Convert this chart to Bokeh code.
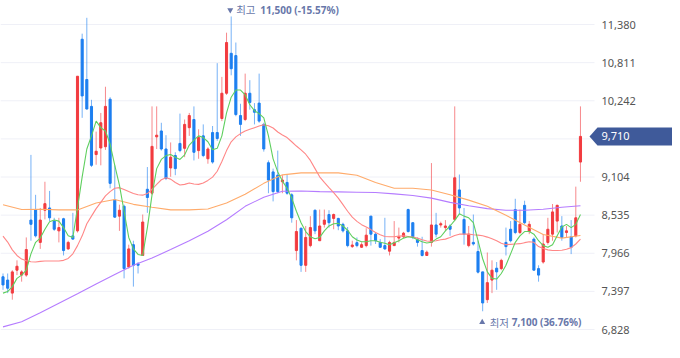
from bokeh.plotting import figure
from bokeh.models import Range1d, ColumnDataSource
from bokeh.core.properties import value
from bokeh.embed import file_html
from bokeh.resources import INLINE

# ---------------- data (daily candles) ----------------
OPEN = [7615, 7566, 7371, 7713, 7640, 7640, 8461, 8618, 8128, 8608,
        8642, 8446, 8300, 8481, 8031, 8226, 8300, 11160, 10559, 10158,
        9439, 9537, 9556, 10265, 8764, 8520, 8667, 7762, 8094, 7811,
        7933, 8921, 8862, 9703, 9791, 9522, 9239, 9424, 9605, 9532,
        9840, 9962, 9498, 9718, 9376, 9767, 9767, 9977, 10354, 10950,
        10916, 10021, 9962, 10354, 10109, 10207, 9889, 9317, 9180, 9131,
        9033, 9023, 8838, 8006, 8339, 7786, 8080, 8608, 8153, 8398,
        8544, 8486, 8486, 8398, 8300, 8065, 8124, 8055, 8080, 8520,
        8251, 8128, 8080, 7997, 8080, 8192, 8212, 8618, 8422, 8168,
        8006, 7933, 8128, 8388, 8388, 8349, 8373, 8471, 8911, 8471,
        8080, 8128, 7992, 7688, 7273, 7566, 7743, 7737, 8128, 8324,
        8618, 8275, 8681, 8290, 8177, 7737, 7835, 8128, 8251, 8446,
        8373, 8275, 8212, 8226, 9327]
HIGH = [7664, 7664, 7713, 7860, 7713, 8202, 9434, 8838, 8642, 9033,
        8896, 8495, 8495, 8495, 8153, 8569, 10608, 11243, 11480, 10256,
        9781, 10060, 10451, 10295, 9278, 8691, 8691, 8094, 8153, 7835,
        8544, 9253, 10158, 10158, 9913, 9728, 9620, 9473, 10050, 9962,
        10060, 10158, 9816, 9889, 9547, 9865, 10803, 10598, 11258, 11500,
        11111, 10197, 10647, 10549, 10207, 10647, 9913, 9351, 9229, 9498,
        9131, 9141, 8862, 8461, 8349, 8373, 8520, 8618, 8618, 8618,
        8608, 8559, 8495, 8422, 8358, 8153, 8202, 8128, 8339, 8520,
        8275, 8177, 8495, 8153, 8446, 8349, 8285, 8632, 8422, 8202,
        8212, 8006, 9312, 8569, 8437, 8461, 8398, 10158, 9141, 8642,
        8373, 8544, 8153, 7688, 7977, 7860, 7835, 7884, 8349, 8446,
        8779, 8618, 8750, 8446, 8202, 7786, 8251, 8495, 8701, 8691,
        8520, 8373, 8461, 8960, 10158]
LOW = [7420, 7371, 7273, 7640, 7542, 7615, 8153, 8202, 8031, 8471,
       8446, 8300, 8128, 7933, 8016, 8168, 8275, 9987, 10109, 9253,
       9287, 9278, 9508, 8935, 8495, 8300, 7591, 7737, 7468, 7664,
       7933, 8569, 8838, 9522, 9498, 9058, 9107, 9131, 9473, 9400,
       9718, 9351, 9376, 9400, 9302, 9302, 9644, 9938, 10329, 10622,
       10011, 9718, 9938, 10109, 9889, 9913, 9483, 8862, 8740, 8862,
       8862, 8838, 8422, 7860, 7688, 7688, 8055, 8251, 8153, 8349,
       8349, 8324, 8310, 8275, 8055, 8045, 8055, 8045, 8055, 8080,
       8104, 8045, 8016, 7933, 8080, 8128, 8192, 8275, 8177, 8065,
       7918, 7933, 8065, 8202, 8349, 8300, 8226, 8446, 8544, 8094,
       8055, 8080, 7664, 7100, 7224, 7371, 7420, 7713, 7933, 8128,
       8251, 8251, 8398, 8251, 7713, 7542, 7811, 8094, 8153, 8275,
       8153, 8202, 7953, 8202, 9033]
CLOSE = [7493, 7444, 7688, 7772, 7688, 8021, 8398, 8226, 8461, 8706,
         8495, 8324, 8349, 8006, 8128, 8177, 10608, 10314, 10119, 9278,
         9488, 9913, 10158, 9009, 8505, 8608, 7737, 8031, 7786, 7786,
         8432, 8798, 9561, 9728, 9522, 9082, 9400, 9229, 9498, 9889,
         10021, 9473, 9693, 9424, 9522, 9327, 9679, 10354, 11111, 10720,
         10036, 9889, 10354, 10217, 10070, 9938, 9522, 9058, 8886, 8886,
         9058, 8862, 8495, 8290, 7786, 8202, 8349, 8300, 8373, 8461,
         8422, 8544, 8373, 8300, 8080, 8089, 8080, 8094, 8236, 8251,
         8153, 8055, 8031, 8128, 8128, 8212, 8266, 8290, 8212, 8128,
         7933, 7982, 8388, 8251, 8407, 8373, 8324, 9092, 8642, 8251,
         8251, 8104, 7684, 7224, 7527, 7713, 7688, 7860, 8065, 8153,
         8275, 8398, 8422, 8398, 7713, 7640, 8104, 8324, 8583, 8681,
         8202, 8300, 8055, 8495, 9710]

# 5-day moving average (green), one value per candle
MA5 = [7371, 7395, 7468, 7591, 7640, 7713, 7957, 8129, 8192, 8324,
       8437, 8461, 8446, 8349, 8226, 8202, 8642, 9107, 9522, 9718,
       9938, 9840, 9791, 9596, 9278, 8984, 8593, 8202, 8031, 7948,
       7933, 8349, 8838, 9229, 9366, 9424, 9439, 9400, 9366, 9434,
       9581, 9654, 9718, 9693, 9630, 9512, 9532, 9718, 10060, 10295,
       10402, 10402, 10329, 10182, 10094, 10050, 9987, 9718, 9375, 9180,
       9043, 8935, 8789, 8593, 8422, 8290, 8212, 8182, 8202, 8300,
       8373, 8407, 8412, 8373, 8309, 8212, 8163, 8138, 8138, 8153,
       8153, 8129, 8114, 8094, 8124, 8153, 8192, 8212, 8202, 8168,
       8138, 8119, 8129, 8177, 8212, 8300, 8373, 8456, 8554, 8520,
       8495, 8422, 8153, 7884, 7688, 7591, 7581, 7664, 7786, 7957,
       8129, 8226, 8290, 8290, 8251, 8153, 8080, 8055, 8094, 8226,
       8358, 8397, 8349, 8397, 8544]
# 20-day moving average (pink), one value per candle
MA20 = [8221, 8133, 8016, 7933, 7879, 7855, 7840, 7835, 7845, 7850,
        7850, 7850, 7850, 7860, 7889, 7957, 8080, 8226, 8407, 8520,
        8632, 8725, 8823, 8886, 8935, 8945, 8916, 8886, 8857, 8838,
        8833, 8857, 8921, 8994, 9063, 9092, 9072, 9023, 8984, 8994,
        9014, 8999, 8994, 9014, 9053, 9102, 9190, 9336, 9498, 9630,
        9703, 9752, 9791, 9816, 9840, 9864, 9884, 9869, 9835, 9776,
        9732, 9693, 9630, 9566, 9508, 9444, 9351, 9229, 9107, 9023,
        8945, 8872, 8789, 8691, 8593, 8505, 8442, 8393, 8358, 8319,
        8275, 8241, 8217, 8212, 8212, 8221, 8226, 8217, 8207, 8192,
        8168, 8148, 8143, 8153, 8168, 8177, 8202, 8231, 8251, 8251,
        8251, 8241, 8236, 8226, 8207, 8182, 8153, 8114, 8094, 8099,
        8104, 8109, 8124, 8138, 8129, 8065, 8036, 8016, 8006, 8006,
        8011, 8026, 8050, 8104, 8177]
# 60-day (orange) and 120-day (purple) averages, read every 4th candle
MA_LONG_IDX = [0, 4, 8, 12, 16, 20, 24, 28, 32, 36, 40, 44, 48, 52, 56, 60,
               64, 68, 72, 76, 80, 84, 88, 92, 96, 100, 104, 108, 112, 116, 120, 124]
MA60 = [8691, 8618, 8622, 8613, 8613, 8715, 8769, 8696, 8652, 8613, 8613,
        8627, 8715, 8847, 9009, 9136, 9165, 9165, 9165, 9131, 9023, 8935,
        8935, 8911, 8838, 8759, 8666, 8534, 8388, 8246, 8192, 8231]
MA120 = [6867, 6945, 7077, 7219, 7361, 7508, 7649, 7786, 7894, 8021, 8153,
         8295, 8466, 8666, 8803, 8891, 8896, 8886, 8882, 8877, 8872, 8852,
         8828, 8789, 8725, 8676, 8632, 8608, 8608, 8622, 8652, 8676]

Y_TICKS = [6828, 7397, 7966, 8535, 9104, 9673, 10242, 10811, 11380]
Y_TICK_LABELS = ["6,828", "7,397", "7,966", "8,535", "9,104", "", "10,242", "10,811", "11,380"]
HIGH_TAG = ["최고", "11,500 (-15.57%)"]
LOW_TAG = ["최저", "7,100 (36.76%)"]
LAST_PRICE = 9710
LAST_LABEL = "9,710"

# ---------------- layout ----------------
W, H = 672, 350
DX = 4.657                      # pixels per candle
X0 = -2.5 / DX
X1 = X0 + W / DX
PXV = (11380 - 6828) / 305.0     # price per pixel
Y1 = 11380 + 24 * PXV
Y0 = Y1 - H * PXV


def xp(px):
    return X0 + px / DX


RED = "#f23b3f"
BLUE = "#1d7ff0"
ANN = "#6877aa"

p = figure(width=W, height=H, x_range=Range1d(X0, X1), y_range=Range1d(Y0, Y1),
           output_backend="svg", toolbar_location=None,
           x_axis_location=None, y_axis_location=None,
           min_border=0, outline_line_color=None, background_fill_color="white")
p.grid.visible = False

n = len(OPEN)
idx = list(range(n))
cols = [RED if c >= o else BLUE for o, c in zip(OPEN, CLOSE)]
src = ColumnDataSource(dict(
    x=idx, o=OPEN, h=HIGH, l=LOW, c=CLOSE, col=cols,
    top=[max(o, c) for o, c in zip(OPEN, CLOSE)],
    bot=[min(o, c) for o, c in zip(OPEN, CLOSE)],
))

# grid lines
p.segment(x0=[X0] * len(Y_TICKS), x1=[xp(594)] * len(Y_TICKS), y0=Y_TICKS, y1=Y_TICKS,
          line_color="#eff0f7", line_width=1)

# candles
p.segment(x0="x", x1="x", y0="l", y1="h", source=src, line_color="col", line_alpha=0.6, line_width=1)
p.vbar(x="x", width=0.45, top="top", bottom="bot", source=src,
       fill_color="col", line_color="col", line_width=1)

# moving averages
p.line(MA_LONG_IDX, MA120, line_color="#b57cff", line_width=1.1)
p.line(MA_LONG_IDX, MA60, line_color="#ffab6b", line_width=1.1)
p.line(idx, MA20, line_color="#ff8787", line_width=1.1)
p.line(idx, MA5, line_color="#5fcf5f", line_width=1.1)

# y tick labels (right side)
p.text(x=[xp(601)] * len(Y_TICKS), y=Y_TICKS, text=Y_TICK_LABELS,
       text_font=value("Noto Sans"), text_font_size="11px", text_color="#555555",
       text_baseline="middle", text_align="left")

# last price tag
th = 9 * PXV
p.patch(x=[xp(589), xp(597), xp(W + 4), xp(W + 4), xp(597)],
        y=[LAST_PRICE, LAST_PRICE + th, LAST_PRICE + th, LAST_PRICE - th, LAST_PRICE - th],
        fill_color="#3f5a9a", line_color=None)
p.text(x=[xp(601)], y=[LAST_PRICE], text=[LAST_LABEL], text_font=value("Noto Sans"),
       text_font_size="11px", text_color="white", text_baseline="middle", text_align="left")

# highest / lowest markers
hi_i = HIGH.index(max(HIGH))
lo_i = LOW.index(min(LOW))
hy = HIGH[hi_i] + 6.5 * PXV
ly = LOW[lo_i] - 11 * PXV
p.scatter(x=[hi_i - 0.2], y=[hy], marker="inverted_triangle", size=6, color=ANN, line_color=None)
p.scatter(x=[lo_i - 0.1], y=[ly], marker="triangle", size=6, color=ANN, line_color=None)
p.text(x=[hi_i + 5 / DX], y=[hy], text=[HIGH_TAG[0]], text_font=value("Noto Sans CJK KR"),
       text_font_size="10.5px", text_color=ANN, text_baseline="middle", text_align="left")
p.text(x=[hi_i + 29 / DX], y=[hy], text=[HIGH_TAG[1]], text_font=value("Noto Sans"),
       text_font_size="10px", text_font_style="bold", text_color=ANN,
       text_baseline="middle", text_align="left")
p.text(x=[lo_i + 7 / DX], y=[ly], text=[LOW_TAG[0]], text_font=value("Noto Sans CJK KR"),
       text_font_size="10.5px", text_color=ANN, text_baseline="middle", text_align="left")
p.text(x=[lo_i + 29 / DX], y=[ly], text=[LOW_TAG[1]], text_font=value("Noto Sans"),
       text_font_size="10px", text_font_style="bold", text_color=ANN,
       text_baseline="middle", text_align="left")

open("out.html", "w").write(file_html(p, INLINE))
